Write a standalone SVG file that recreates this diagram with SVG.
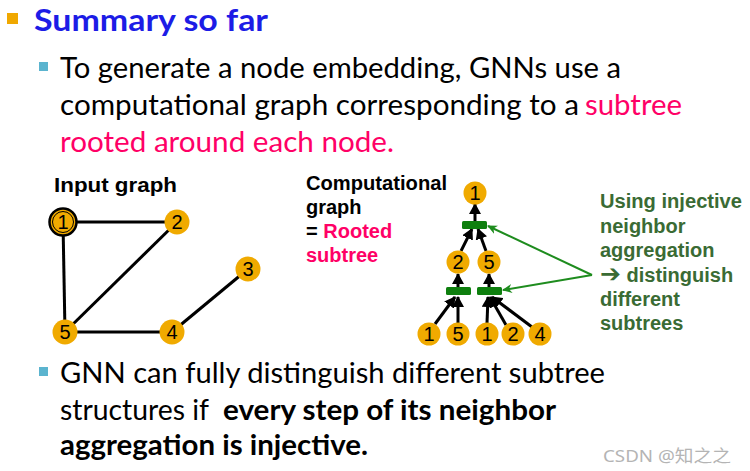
<svg xmlns="http://www.w3.org/2000/svg" width="750" height="471" viewBox="0 0 750 471">
<style>
.body{font-family:Lato,"Open Sans",sans-serif;font-size:29px;fill:#000}
.pink{fill:#FF0066}
.b{font-weight:bold}
.ar{font-family:"Liberation Sans",Arial,sans-serif;font-weight:bold;font-size:20px}
.gt{fill:#3A6B34}
.nd{fill:#F0AA00}
.num{font-family:"Liberation Sans",Arial,sans-serif;font-size:20px;fill:#000;text-anchor:middle}
.edge{stroke:#000;stroke-width:3;fill:none}
.arr{stroke:#000;stroke-width:3;fill:none;marker-end:url(#ah)}
.garr{stroke:#1E8C1E;stroke-width:2;fill:none;marker-end:url(#gh)}
.bar{fill:#0E7F0E}
</style>
<defs>
<marker id="ah" markerUnits="userSpaceOnUse" markerWidth="12" markerHeight="12" refX="10" refY="6" orient="auto">
<path d="M0,0 L11,6 L0,12 Z" fill="#000"/>
</marker>
<marker id="gh" markerUnits="userSpaceOnUse" markerWidth="10" markerHeight="10" refX="9" refY="5" orient="auto">
<path d="M0,0.5 L10,5 L0,9.5 L3,5 Z" fill="#1E8C1E"/>
</marker>
</defs>

<rect x="7" y="13" width="11" height="11" fill="#F0A800"/>
<text x="34" y="31" font-family="Lato,Open Sans,sans-serif" font-weight="bold" font-size="31" fill="#1C1CE6" textLength="234" lengthAdjust="spacingAndGlyphs">Summary so far</text>

<rect x="39" y="62" width="9" height="9" fill="#5BB4CF"/>
<text class="body" x="60" y="78" textLength="561" lengthAdjust="spacingAndGlyphs">To generate a node embedding, GNNs use a</text>
<text class="body" x="60" y="115" textLength="519" lengthAdjust="spacingAndGlyphs">computational graph corresponding to a</text>
<text class="body pink" x="585" y="115" textLength="97" lengthAdjust="spacingAndGlyphs">subtree</text>
<text class="body pink" x="60" y="152" textLength="334" lengthAdjust="spacingAndGlyphs">rooted around each node.</text>

<text class="ar" x="54" y="192" font-size="21" textLength="123" lengthAdjust="spacingAndGlyphs">Input graph</text>

<g id="connectors">
<line class="edge" x1="63" y1="222" x2="177" y2="222"/>
<line class="edge" x1="63" y1="222" x2="65" y2="332"/>
<line class="edge" x1="177" y1="222" x2="65" y2="332"/>
<line class="edge" x1="65" y1="332" x2="172" y2="332"/>
<line class="edge" x1="172" y1="332" x2="248" y2="269"/>

<line class="arr" x1="475" y1="221" x2="475" y2="204"/>
<line class="arr" x1="461" y1="251" x2="472" y2="229"/>
<line class="arr" x1="486" y1="251" x2="478" y2="229"/>
<line class="arr" x1="458" y1="287" x2="458" y2="274"/>
<line class="arr" x1="489" y1="287" x2="489" y2="274"/>
<line class="arr" x1="435" y1="324" x2="455" y2="297"/>
<line class="arr" x1="458" y1="323" x2="458" y2="297"/>
<line class="arr" x1="487" y1="323" x2="488" y2="297"/>
<line class="arr" x1="506" y1="325" x2="490" y2="297"/>
<line class="arr" x1="532" y1="327" x2="492" y2="297"/>

<line class="garr" x1="592" y1="275" x2="488" y2="226"/>
<line class="garr" x1="592" y1="275" x2="503" y2="290"/>
</g>

<g id="in1"><circle cx="63" cy="222" r="13.5" class="nd" stroke="#000" stroke-width="2.5"/><circle cx="63" cy="222" r="10.5" fill="none" stroke="#000" stroke-width="1"/><text class="num" x="63" y="229">1</text></g>
<g id="in2"><circle cx="177" cy="222" r="12.5" class="nd"/><text class="num" x="177" y="229">2</text></g>
<g id="in3"><circle cx="248" cy="269" r="12.5" class="nd"/><text class="num" x="248" y="276">3</text></g>
<g id="in4"><circle cx="172" cy="332" r="12.5" class="nd"/><text class="num" x="172" y="339">4</text></g>
<g id="in5"><circle cx="65" cy="332" r="12.5" class="nd"/><text class="num" x="65" y="339">5</text></g>

<text class="ar" x="306" y="190" textLength="141" lengthAdjust="spacingAndGlyphs">Computational</text>
<text class="ar" x="306" y="214">graph</text>
<text class="ar" x="306" y="238">= <tspan class="pink">Rooted</tspan></text>
<text class="ar pink" x="306" y="262">subtree</text>

<g id="t_root"><circle cx="475" cy="193" r="11.5" class="nd"/><text class="num" x="475" y="200">1</text></g>
<g id="agg_top"><rect x="462" y="221" width="25" height="8" rx="1.5" class="bar"/></g>
<g id="t_2"><circle cx="458" cy="262" r="11.5" class="nd"/><text class="num" x="458" y="269">2</text></g>
<g id="t_5"><circle cx="489" cy="262" r="11.5" class="nd"/><text class="num" x="489" y="269">5</text></g>
<g id="agg_l"><rect x="446" y="287" width="25" height="8" rx="1.5" class="bar"/></g>
<g id="agg_r"><rect x="477" y="287" width="25" height="8" rx="1.5" class="bar"/></g>
<g id="b_1a"><circle cx="429" cy="334" r="11.5" class="nd"/><text class="num" x="429" y="341">1</text></g>
<g id="b_5"><circle cx="458" cy="334" r="11.5" class="nd"/><text class="num" x="458" y="341">5</text></g>
<g id="b_1b"><circle cx="487" cy="334" r="11.5" class="nd"/><text class="num" x="487" y="341">1</text></g>
<g id="b_2"><circle cx="513" cy="334" r="11.5" class="nd"/><text class="num" x="513" y="341">2</text></g>
<g id="b_4"><circle cx="540" cy="334" r="11.5" class="nd"/><text class="num" x="540" y="341">4</text></g>

<g id="note">
<text class="ar gt" x="600" y="208" textLength="142" lengthAdjust="spacingAndGlyphs">Using injective</text>
<text class="ar gt" x="600" y="233">neighbor</text>
<text class="ar gt" x="600" y="257">aggregation</text>
<text class="ar gt" x="600" y="282"><tspan font-family="DejaVu Sans,sans-serif" font-size="25">➔</tspan> distinguish</text>
<text class="ar gt" x="600" y="306">different</text>
<text class="ar gt" x="600" y="330">subtrees</text>
</g>

<rect x="39" y="367" width="9" height="9" fill="#5BB4CF"/>
<text class="body" x="60" y="383" textLength="545" lengthAdjust="spacingAndGlyphs">GNN can fully distinguish different subtree</text>
<text class="body" x="60" y="420" textLength="149" lengthAdjust="spacingAndGlyphs">structures if</text>
<text class="body b" x="223" y="420" textLength="333" lengthAdjust="spacingAndGlyphs">every step of its neighbor</text>
<text class="body b" x="60" y="455" textLength="308" lengthAdjust="spacingAndGlyphs">aggregation is injective.</text>

<text x="603" y="462" font-family="Noto Sans,Noto Sans CJK SC,sans-serif" font-size="17" fill="#B4B4B4" textLength="128" lengthAdjust="spacingAndGlyphs">CSDN @知之之</text>
</svg>
